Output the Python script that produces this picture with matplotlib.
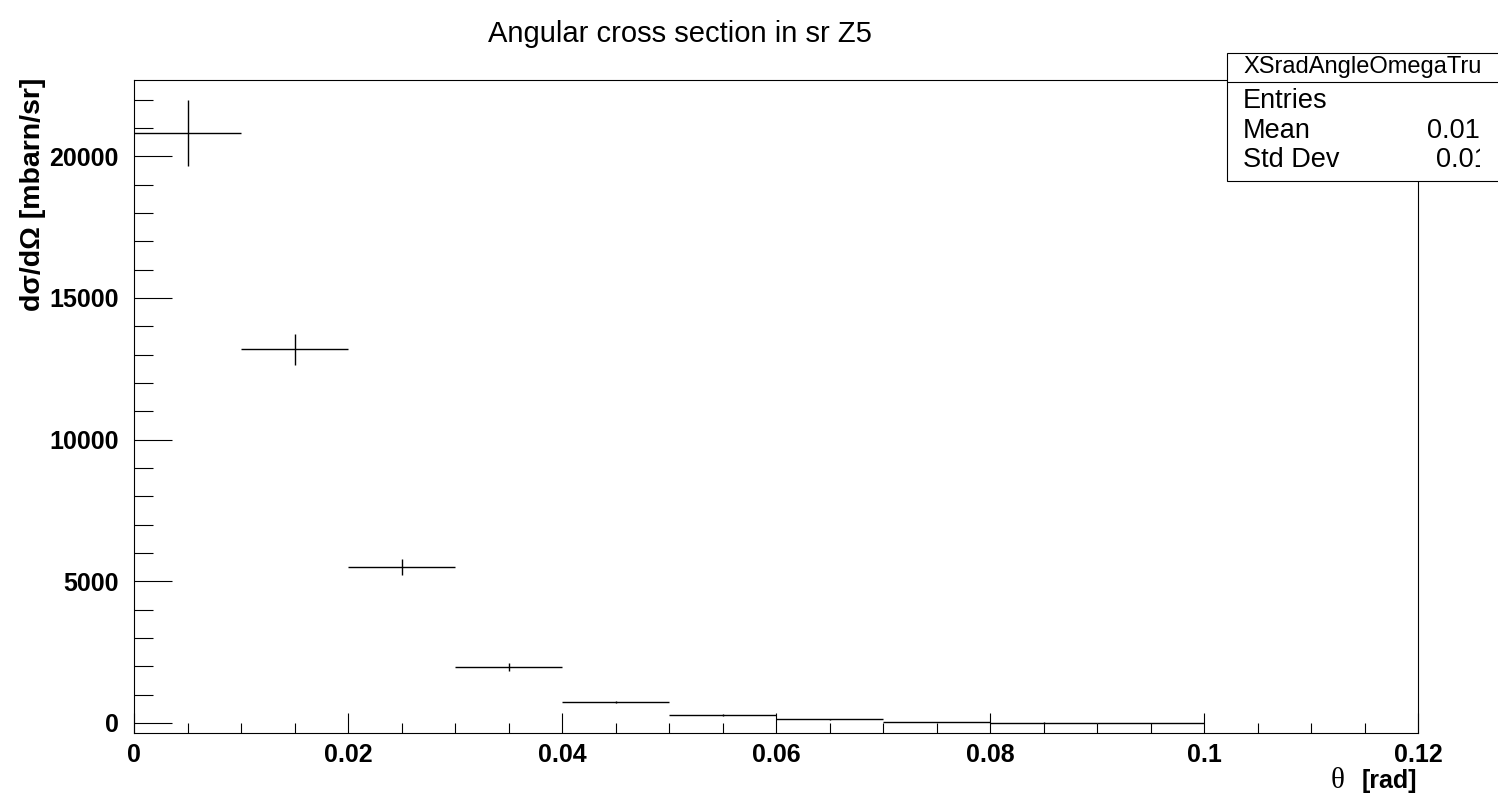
import numpy as np
import matplotlib
matplotlib.use("Agg")
import matplotlib.pyplot as plt
from matplotlib.patches import Rectangle
from matplotlib.lines import Line2D
from matplotlib.transforms import Bbox

plt.rcParams['font.family'] = ['Liberation Sans', 'DejaVu Sans']

# histogram data (bin edges 0 .. 0.1, width 0.01)
bin_edges = [0.0, 0.01, 0.02, 0.03, 0.04, 0.05, 0.06, 0.07, 0.08, 0.09, 0.1]
counts = [20830, 13190, 5500, 1980, 740, 270, 130, 30, 12, 10]
errors = [1170, 540, 270, 130, 50, 30, 20, 8, 6, 5]

x_ticks = [0, 0.02, 0.04, 0.06, 0.08, 0.1, 0.12]
x_ticklabels = ["0", "0.02", "0.04", "0.06", "0.08", "0.1", "0.12"]
y_ticks = [0, 5000, 10000, 15000, 20000]
y_ticklabels = ["0", "5000", "10000", "15000", "20000"]

stats_name = "XSradAngleOmegaTrue"
stats_rows = ["Entries", "Mean", "Std Dev"]
stats_vals = ["", "0.01334", "0.01078"]   # entries value is off-canvas in the original

W, H = 1498, 802
fig = plt.figure(figsize=(W / 100, H / 100), dpi=100)


def fx(px):
    return px / W


def fy(py):
    return 1 - py / H


# axes frame in pixels: left 134, right 1418, top 80, bottom 733
ax = fig.add_axes([fx(134), fy(733), fx(1418) - fx(134), fy(80) - fy(733)])

edges = np.array(bin_edges)
centers = (edges[:-1] + edges[1:]) / 2
half = (edges[1:] - edges[:-1]) / 2
ax.errorbar(centers, counts, xerr=half, yerr=errors, fmt='none',
            ecolor='black', elinewidth=1, capsize=0)

ax.set_xlim(0, 0.12)
ax.set_ylim(-353, 22689)

ax.set_xticks(x_ticks)
ax.set_xticklabels(x_ticklabels, fontweight='bold', fontsize=18)
ax.set_xticks(np.arange(0, 0.1201, 0.005), minor=True)
ax.set_yticks(y_ticks)
ax.set_yticklabels(y_ticklabels, fontweight='bold', fontsize=18)
ax.set_yticks(np.arange(0, 22001, 1000), minor=True)

ax.tick_params(axis='x', which='major', direction='in', length=14.4, width=0.8, pad=7)
ax.tick_params(axis='x', which='minor', direction='in', length=7.2, width=0.8)
ax.tick_params(axis='y', which='major', direction='in', length=27.4, width=0.8, pad=11)
ax.tick_params(axis='y', which='minor', direction='in', length=13.7, width=0.8)
for s in ax.spines.values():
    s.set_linewidth(0.8)

# title
fig.text(fx(680), fy(34), "Angular cross section in sr Z5", fontsize=21,
         ha='center', va='center')

# axis titles
fig.text(fx(33), fy(78), "dσ/dΩ [mbarn/sr]", fontsize=20.5, fontweight='bold',
         rotation=90, ha='center', va='top')
fig.text(fx(1417), fy(781), "[rad]", fontsize=18, fontweight='bold',
         ha='right', va='center')
fig.text(fx(1344), fy(781), "θ", fontsize=21, family='Liberation Serif',
         ha='right', va='center')

# stats box (runs off the right edge, text clipped a bit before it)
fig.add_artist(Rectangle((fx(1227), fy(181)), fx(1530) - fx(1227), fy(53) - fy(181),
                         transform=fig.transFigure, facecolor='white',
                         edgecolor='black', linewidth=0.8, zorder=5))
fig.add_artist(Line2D([fx(1227), fx(1530)], [fy(82), fy(82)],
                      transform=fig.transFigure, color='black', linewidth=0.8, zorder=6))
clip = Bbox.from_extents(1227, 0, 1480, H)

t = fig.text(fx(1243), fy(67), stats_name, fontsize=17, ha='left', va='center', zorder=7)
t.set_clip_box(clip)
t.set_clip_on(True)
row_y = [101, 131, 160]
val_x = [1490, 1427, 1436]
for name, val, yy, xx in zip(stats_rows, stats_vals, row_y, val_x):
    fig.text(fx(1243), fy(yy), name, fontsize=19.5, ha='left', va='center', zorder=7)
    if val:
        t = fig.text(fx(xx), fy(yy), val, fontsize=19.5, ha='left', va='center', zorder=7)
        t.set_clip_box(clip)
        t.set_clip_on(True)

fig.savefig("out.png", dpi=100)
